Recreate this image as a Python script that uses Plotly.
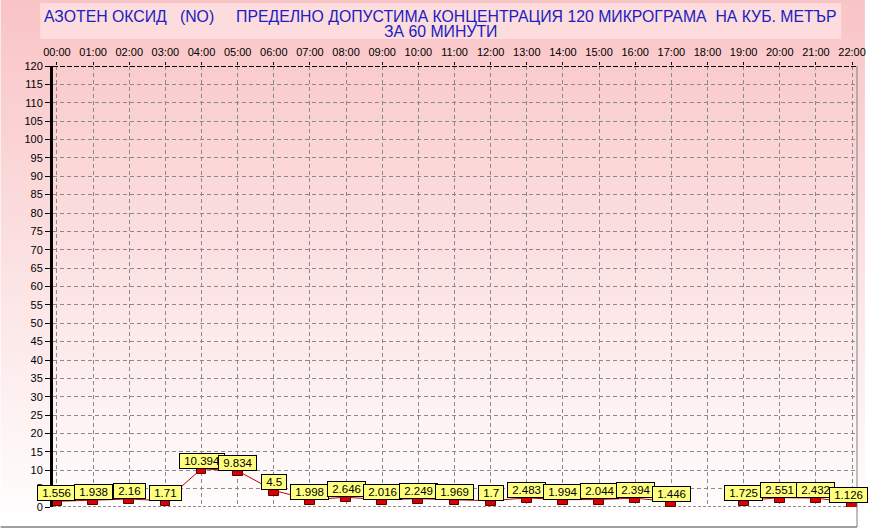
import plotly.graph_objects as go

# ---- data ----
hours = ["00:00", "01:00", "02:00", "03:00", "04:00", "05:00", "06:00", "07:00",
         "08:00", "09:00", "10:00", "11:00", "12:00", "13:00", "14:00", "15:00",
         "16:00", "17:00", "18:00", "19:00", "20:00", "21:00", "22:00"]
values = [1.556, 1.938, 2.16, 1.71, 10.394, 9.834, 4.5, 1.998, 2.646, 2.016, 2.249,
          1.969, 1.7, 2.483, 1.994, 2.044, 2.394, 1.446, None, 1.725, 2.551, 2.432, 1.126]
value_labels = ["1.556", "1.938", "2.16", "1.71", "10.394", "9.834", "4.5", "1.998",
                "2.646", "2.016", "2.249", "1.969", "1.7", "2.483", "1.994", "2.044",
                "2.394", "1.446", None, "1.725", "2.551", "2.432", "1.126"]
y_ticks = list(range(0, 121, 5))
title_line1 = "АЗОТЕН ОКСИД   (NO)     ПРЕДЕЛНО ДОПУСТИМА КОНЦЕНТРАЦИЯ 120 МИКРОГРАМА  НА КУБ. МЕТЪР"
title_line2 = "ЗА 60 МИНУТИ"

# ---- layout geometry ----
W, H = 874, 529
L, R, T, B = 53, 8, 66, 22
pw, ph = W - L - R, H - T - B


def px(xp):
    return (xp - L) / pw


def py(yp):
    return (H - B - yp) / ph


xs = list(range(len(hours)))
FONT = "Arial, Liberation Sans, sans-serif"
NB = "\u00a0"

fig = go.Figure()

fig.add_trace(go.Scatter(x=xs, y=values, mode="lines", connectgaps=False,
                         line=dict(color="#c00000", width=1), hoverinfo="skip",
                         showlegend=False))

mh = 1.4  # marker height (data units)
bx = [x for x, v in zip(xs, values) if v is not None]
bv = [v for v in values if v is not None]
fig.add_trace(go.Bar(x=bx, y=[mh] * len(bv), base=[v - mh for v in bv], width=0.27,
                     marker=dict(color="#d80000", line=dict(color="#5a0000", width=1)),
                     showlegend=False, hoverinfo="skip"))

shapes = []
# background gradient strips
step = 4
top_c = (249, 196, 198)
bot_c = (255, 255, 255)
for i in range(0, H, step):
    t = (i + step / 2) / H
    c = tuple(round(a + (b - a) * t) for a, b in zip(top_c, bot_c))
    shapes.append(dict(type="rect", xref="paper", yref="paper", x0=px(0), x1=px(W),
                       y0=py(i + step), y1=py(i), fillcolor="rgb(%d,%d,%d)" % c,
                       line=dict(width=0), layer="below"))
# title box
shapes.append(dict(type="rect", xref="paper", yref="paper", x0=px(40), x1=px(850),
                   y0=py(39), y1=py(3), fillcolor="#fcdcdd", line=dict(width=0),
                   layer="below"))
# top border (dashed black) and bottom zero line
shapes.append(dict(type="line", xref="paper", yref="y", x0=0, x1=1, y0=120, y1=120,
                   line=dict(color="black", width=2, dash="5px,2px")))
shapes.append(dict(type="line", xref="paper", yref="y", x0=0, x1=1, y0=0, y1=0,
                   line=dict(color="#202020", width=1, dash="3px,2px"), layer="between"))
# frame lines
shapes.append(dict(type="line", xref="paper", yref="paper", x0=px(866), x1=px(866),
                   y0=py(66), y1=py(527), line=dict(color="#808080", width=1)))
shapes.append(dict(type="line", xref="paper", yref="paper", x0=px(0), x1=px(866),
                   y0=py(527), y1=py(527), line=dict(color="#808080", width=1.5)))

annotations = []
last = len(xs) - 1
for x, v, lab in zip(xs, values, value_labels):
    if v is None:
        continue
    annotations.append(dict(x=x, y=v, xref="x", yref="y", text=NB + lab + NB,
                            showarrow=False, xanchor="center", yanchor="bottom",
                            xshift=-4 if x == last else 0, height=12,
                            font=dict(family=FONT, size=11.5, color="black"),
                            bgcolor="#ffff80", bordercolor="black", borderwidth=1,
                            borderpad=1))
annotations.append(dict(x=px(445), y=py(16), xref="paper", yref="paper", text=title_line1,
                        showarrow=False, xanchor="center", yanchor="middle",
                        font=dict(family=FONT, size=15.8, color="#2020c0")))
annotations.append(dict(x=px(445), y=py(32), xref="paper", yref="paper", text=title_line2,
                        showarrow=False, xanchor="center", yanchor="middle",
                        font=dict(family=FONT, size=15.8, color="#2020c0")))

x0 = -4 / 36.545
x1 = 22 + 5 / 36.545
fig.update_layout(
    width=W, height=H,
    margin=dict(l=L, r=R, t=T, b=B, pad=0),
    paper_bgcolor="white",
    plot_bgcolor="rgba(0,0,0,0)",
    showlegend=False,
    bargap=0,
    shapes=shapes,
    annotations=annotations,
    xaxis=dict(range=[x0, x1], tickmode="array", tickvals=xs, ticktext=hours,
               side="top", showgrid=True, gridcolor="#8a8a8a", griddash="4px,3px",
               gridwidth=1, ticks="outside", ticklen=3, tickcolor="black",
               ticklabeloverflow="allow", ticklabelstandoff=2,
               tickfont=dict(family=FONT, size=11, color="black"), zeroline=False,
               showline=False, fixedrange=True),
    yaxis=dict(range=[0, 120], tickmode="array", tickvals=y_ticks,
               showgrid=True, gridcolor="#8a8a8a", griddash="4px,3px", gridwidth=1,
               ticks="outside", ticklen=5, tickcolor="black",
               tickfont=dict(family=FONT, size=11, color="black"), zeroline=False,
               showline=True, linecolor="black", linewidth=3, fixedrange=True),
)

fig.write_html("out.html", config={"displayModeBar": False},
               post_script="document.body.style.margin='0';document.body.style.overflow='hidden';")
